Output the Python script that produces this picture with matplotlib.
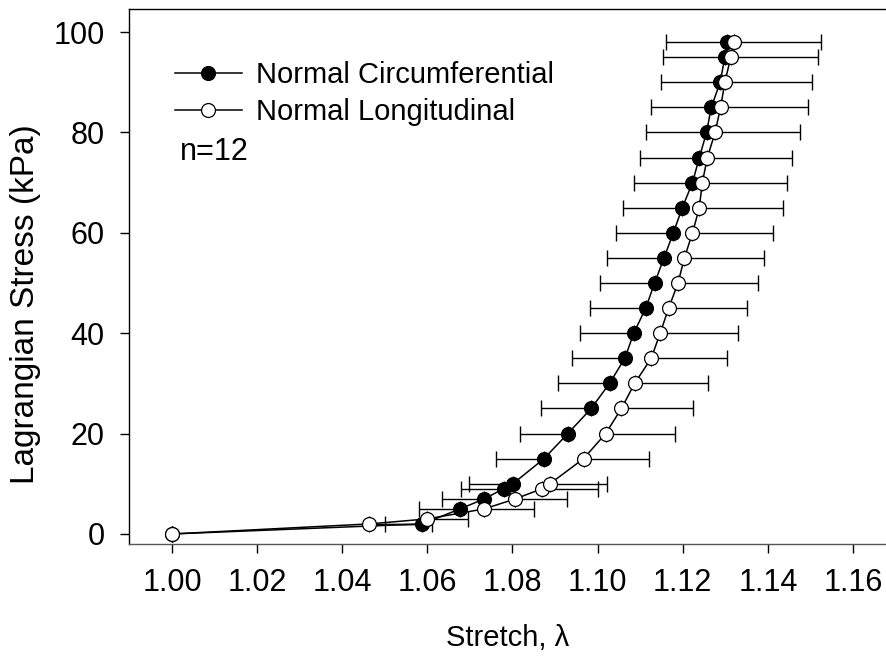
import matplotlib
matplotlib.use('Agg')
import matplotlib.pyplot as plt
import numpy as np

plt.rcParams['font.family'] = ['Liberation Sans', 'DejaVu Sans']

# Normal circumferential (filled), error bar to the left
circ_stress = [0, 2, 5, 7, 9, 10, 15, 20, 25, 30, 35, 40, 45, 50, 55, 60, 65, 70,
               75, 80, 85, 90, 95, 98]
circ_stretch = [1.000, 1.0588, 1.0677, 1.0734, 1.0779, 1.0801, 1.0874, 1.0930,
                1.0985, 1.1028, 1.1064, 1.1085, 1.1113, 1.1134, 1.1156, 1.1178,
                1.1199, 1.1223, 1.1239, 1.1256, 1.1267, 1.1288, 1.1299, 1.1305]
circ_sd = [0.0, 0.0088, 0.0097, 0.0099, 0.0101, 0.0104, 0.0112, 0.0113, 0.0118,
           0.0120, 0.0124, 0.0127, 0.0131, 0.0129, 0.0135, 0.0135, 0.0140, 0.0137,
           0.0140, 0.0142, 0.0142, 0.0140, 0.0145, 0.0145]

# Normal longitudinal (open), error bar to the right
long_stress = [0, 2, 3, 5, 7, 9, 10, 15, 20, 25, 30, 35, 40, 45, 50, 55, 60, 65,
               70, 75, 80, 85, 90, 95, 98]
long_stretch = [1.000, 1.0464, 1.0600, 1.0734, 1.0807, 1.0869, 1.0888, 1.0967,
                1.1019, 1.1056, 1.1087, 1.1126, 1.1147, 1.1167, 1.1189, 1.1204,
                1.1223, 1.1239, 1.1246, 1.1258, 1.1276, 1.1289, 1.1299, 1.1313,
                1.1321]
long_sd = [0.0, 0.0147, 0.0096, 0.0117, 0.0122, 0.0132, 0.0133, 0.0154, 0.0163,
           0.0168, 0.0172, 0.0179, 0.0182, 0.0185, 0.0187, 0.0187, 0.0190, 0.0196,
           0.0199, 0.0198, 0.0200, 0.0205, 0.0205, 0.0204, 0.0204]

x_ticks = [1.00, 1.02, 1.04, 1.06, 1.08, 1.10, 1.12, 1.14, 1.16]
y_ticks = [0, 20, 40, 60, 80, 100]

fig = plt.figure(figsize=(8.87, 6.56), dpi=100)
ax = fig.add_axes([129 / 887, 1 - 544 / 656, 1 - 129 / 887, (544 - 9) / 656])

zeros_c = np.zeros(len(circ_sd))
zeros_l = np.zeros(len(long_sd))
ax.errorbar(circ_stretch, circ_stress, xerr=[circ_sd, zeros_c], fmt='none',
            ecolor='black', elinewidth=1, capsize=6, capthick=1, zorder=1)
ax.errorbar(long_stretch, long_stress, xerr=[zeros_l, long_sd], fmt='none',
            ecolor='black', elinewidth=1, capsize=6, capthick=1, zorder=1)

l1, = ax.plot(circ_stretch, circ_stress, '-o', color='black', lw=1.1,
              ms=10, mfc='black', mec='black', mew=0.9, zorder=3,
              label='Normal Circumferential')
l2, = ax.plot(long_stretch, long_stress, '-o', color='black', lw=1.1,
              ms=10, mfc='white', mec='black', mew=0.9, zorder=4,
              label='Normal Longitudinal')

ax.set_xlim(0.9899, 1.168)
ax.set_ylim(-2.0, 104.6)
ax.set_xticks(x_ticks)
ax.set_xticklabels(['%.2f' % t for t in x_ticks])
ax.set_yticks(y_ticks)
ax.tick_params(direction='out', length=6.5, width=1, labelsize=22, pad=11)

ax.spines['right'].set_visible(False)
for s in ['left', 'top', 'bottom']:
    ax.spines[s].set_linewidth(1)
ax.spines['bottom'].set_color('#555555')

ax.set_xlabel('Stretch, λ', fontsize=21)
ax.xaxis.set_label_coords(0.5, -0.15)
ax.set_ylabel('Lagrangian Stress (kPa)', fontsize=24)
ax.yaxis.set_label_coords(-0.116, 0.449)

ax.legend(handles=[l1, l2], loc='upper left', bbox_to_anchor=(0.045, 0.924),
          frameon=False, fontsize=21, handlelength=2.3, handletextpad=0.5,
          labelspacing=0.29, borderaxespad=0)
ax.text(0.067, 0.733, 'n=12', transform=ax.transAxes, fontsize=22, va='center')

fig.savefig('out.png', dpi=100)
